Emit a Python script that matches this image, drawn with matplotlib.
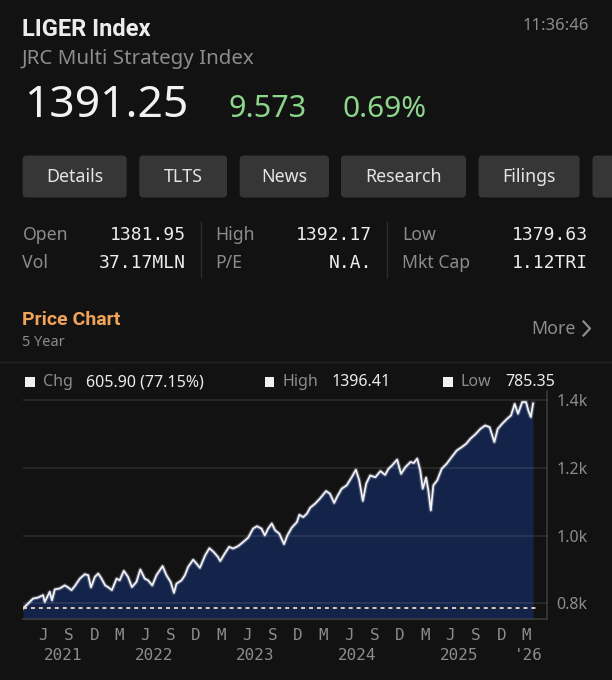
import matplotlib
matplotlib.use('Agg')
import matplotlib.pyplot as plt
import matplotlib.dates as mdates
from matplotlib.patches import FancyBboxPatch, Rectangle
from matplotlib.ticker import FuncFormatter
import pandas as pd

plt.rcParams['font.family'] = ['Noto Sans', 'DejaVu Sans']

BG = '#121212'
GREY = '#8c8c8c'
WHITE = '#ececec'
GREEN = '#8bd68b'
ORANGE = '#f0a35a'
FILL = '#13234a'
MONO = ['DejaVu Sans Mono']
BOLD = ['Roboto', 'DejaVu Sans']

# header data
title = 'LIGER Index'
subtitle = 'JRC Multi Strategy Index'
clock = '11:36:46'
last_price = '1391.25'
net_change = '9.573'
pct_change = '0.69%'
buttons = ['Details', 'TLTS', 'News', 'Research', 'Filings', '']
stat_labels = [['Open', 'High', 'Low'], ['Vol', 'P/E', 'Mkt Cap']]
stat_values = [['1381.95', '1392.17', '1379.63'], ['37.17MLN', 'N.A.', '1.12TRI']]
chg_text = '605.90 (77.15%)'
period_high = 1396.41
period_low = 785.35

# price series
dates = ['2021-03-20', '2021-04-07', '2021-04-25', '2021-05-13', '2021-05-31', '2021-06-06',
         '2021-06-24', '2021-07-02', '2021-07-12', '2021-07-30', '2021-08-17', '2021-08-29',
         '2021-09-10', '2021-09-22', '2021-10-10', '2021-10-28', '2021-11-09', '2021-11-19',
         '2021-12-03', '2021-12-15', '2021-12-27', '2022-01-09', '2022-01-21', '2022-02-02',
         '2022-02-19', '2022-03-02', '2022-03-17', '2022-04-01', '2022-04-15', '2022-05-01',
         '2022-05-15', '2022-05-31', '2022-06-12', '2022-06-27', '2022-07-12', '2022-08-03',
         '2022-08-17', '2022-09-01', '2022-09-13', '2022-09-22', '2022-10-10', '2022-10-22',
         '2022-11-03', '2022-11-21', '2022-12-03', '2022-12-15', '2023-01-03', '2023-01-18',
         '2023-02-02', '2023-02-18', '2023-02-26', '2023-03-14', '2023-03-30', '2023-04-13',
         '2023-05-01', '2023-05-19', '2023-06-06', '2023-06-24', '2023-07-08', '2023-07-24',
         '2023-08-05', '2023-08-17', '2023-08-30', '2023-09-11', '2023-09-26', '2023-10-13',
         '2023-10-25', '2023-11-10', '2023-11-28', '2023-12-07', '2023-12-21', '2024-01-03',
         '2024-01-15', '2024-02-02', '2024-02-19', '2024-03-12', '2024-03-26', '2024-04-10',
         '2024-04-21', '2024-05-07', '2024-05-25', '2024-06-12', '2024-06-27', '2024-07-09',
         '2024-07-22', '2024-08-03', '2024-08-17', '2024-09-05', '2024-09-23', '2024-10-10',
         '2024-10-22', '2024-11-04', '2024-11-22', '2024-12-06', '2024-12-22', '2025-01-09',
         '2025-01-21', '2025-02-02', '2025-02-13', '2025-02-22', '2025-03-06', '2025-03-14',
         '2025-03-23', '2025-04-01', '2025-04-15', '2025-05-01', '2025-05-19', '2025-06-06',
         '2025-06-24', '2025-07-12', '2025-07-28', '2025-08-12', '2025-08-30', '2025-09-17',
         '2025-10-04', '2025-10-20', '2025-11-06', '2025-11-18', '2025-12-04', '2025-12-22',
         '2026-01-05', '2026-01-18', '2026-01-30', '2026-02-14', '2026-02-28', '2026-03-08',
         '2026-03-17', '2026-03-25']
prices = [785, 799, 814, 817, 824, 804,
          834, 809, 841, 844, 853, 847,
          839, 851, 873, 886, 883, 847,
          878, 888, 873, 853, 847, 839,
          873, 868, 896, 878, 848, 863,
          900, 873, 868, 853, 883, 910,
          883, 863, 831, 858, 868, 883,
          908, 929, 917, 905, 942, 963,
          952, 937, 925, 947, 967, 962,
          969, 981, 994, 1021, 1028, 1021,
          1001, 1021, 1036, 1016, 1006, 975,
          1001, 1024, 1040, 1062, 1055, 1065,
          1083, 1095, 1110, 1132, 1124, 1097,
          1116, 1139, 1149, 1173, 1195, 1164,
          1103, 1154, 1178, 1173, 1191, 1180,
          1198, 1208, 1225, 1183, 1203, 1218,
          1215, 1228, 1193, 1139, 1172, 1134,
          1075, 1149, 1164, 1198, 1213, 1233,
          1252, 1262, 1272, 1287, 1300, 1316,
          1326, 1321, 1277, 1316, 1331, 1346,
          1356, 1390, 1361, 1395, 1395, 1370,
          1351, 1391]
y_ticks = [800, 1000, 1200, 1400]
y_labels = ['0.8k', '1.0k', '1.2k', '1.4k']
year_labels = ['2021', '2022', '2023', '2024', '2025', "'26"]
x_end = '2026-05-14'

W, H = 612, 680
fig = plt.figure(figsize=(W / 100, H / 100), dpi=100, facecolor=BG)

# overlay in pixel coords for the header / stats panel
ov = fig.add_axes([0, 0, 1, 1])
ov.set_xlim(0, W)
ov.set_ylim(H, 0)
ov.axis('off')

ov.text(22.5, 36, title, color=WHITE, fontsize=17, fontweight='bold', family=BOLD, va='baseline')
ov.text(589, 30.5, clock, color=GREY, fontsize=12, ha='right', va='baseline')
ov.text(22, 64, subtitle, color=GREY, fontsize=14.8, va='baseline')
ov.text(24, 117, last_price, color='#f2f2f2', fontsize=32, va='baseline')
ov.text(229, 117, net_change, color=GREEN, fontsize=22, va='baseline')
ov.text(342, 117, pct_change, color=GREEN, fontsize=21.5, va='baseline')

btn_x = [(22.7, 126.7), (139.3, 227), (239.7, 329), (341, 466), (478.5, 579.6), (592.5, 640)]
for name, (x0, x1) in zip(buttons, btn_x):
    ov.add_patch(FancyBboxPatch((x0, 155.5), x1 - x0, 42, boxstyle='round,pad=0,rounding_size=4',
                                fc='#363636', ec='none'))
    ov.text((x0 + x1) / 2, 177, name, color='#e4e4e4', fontsize=12.8, ha='center', va='center')

col_lab = [22.5, 215.5, 402]
col_val = [185.5, 372, 587.5]
row_y = [240, 268]
for r in range(2):
    for c in range(3):
        ov.text(col_lab[c], row_y[r], stat_labels[r][c], color=GREY, fontsize=12.7, va='baseline')
        ov.text(col_val[c], row_y[r], stat_values[r][c], color=WHITE, fontsize=13,
                family=MONO, ha='right', va='baseline')
for sx in [201, 386.5]:
    ov.plot([sx, sx], [222, 277], color='#2c2c2c', lw=1)

ov.text(22, 325, 'Price Chart', color=ORANGE, fontsize=14, fontweight='semibold', family=BOLD,
        va='baseline')
ov.text(22, 346.5, '5 Year', color=GREY, fontsize=10.5, va='baseline')
ov.text(531, 334, 'More', color=GREY, fontsize=12.8, va='baseline')
ov.plot([583.5, 590, 583.5], [321.5, 328.5, 335.5], color=GREY, lw=1.6)
ov.plot([0, W], [362, 362], color='#222222', lw=1)

legend_items = [(25.4, 'Chg', chg_text, 86), (264.6, 'High', f'{period_high:.2f}', 332),
                (443, 'Low', f'{period_low:.2f}', 505)]
for sq, lab, val, vx in legend_items:
    ov.add_patch(Rectangle((sq, 376.5), 9.5, 10, fc='#f0f0f0', ec='none'))
    ov.text(sq + 17.5, 386.5, lab, color=GREY, fontsize=11.5, va='baseline')
    ov.text(vx, 386.5, val, color=WHITE, fontsize=11.5, va='baseline')

# price chart
d = pd.to_datetime(dates)
ax = fig.add_axes([23 / W, (H - 619.3) / H, (547 - 23) / W, (619.3 - 391) / H])
ax.set_facecolor(BG)
ax.fill_between(d, prices, 0, color=FILL, lw=0, zorder=1)
ax.plot(d, prices, color='#9aa0b4', lw=3.0, alpha=0.4, zorder=3)
ax.plot(d, prices, color='#f2f2f6', lw=1.3, zorder=3.1)
ax.axhline(period_low, xmax=0.985, color='#f3d2b8', lw=1.3, ls=(0, (2.2, 2.2)), zorder=4)

x0 = d[0]
x1 = pd.Timestamp(x_end)
ax.set_xlim(x0, x1)
ax.set_ylim(752.7, 1428)

ax.set_yticks(y_ticks)
ax.set_yticklabels(y_labels)
ax.yaxis.tick_right()
ax.grid(axis='y', color='white', alpha=0.1, lw=1.2, zorder=2)
ax.set_axisbelow(False)
ax.tick_params(axis='y', length=0, pad=7, labelcolor=GREY, labelsize=11.5)
ax.xaxis.set_major_locator(mdates.MonthLocator(bymonth=[3, 6, 9, 12]))
ax.xaxis.set_major_formatter(FuncFormatter(lambda v, p: mdates.num2date(v).strftime('%b')[0]))
ax.tick_params(axis='x', length=0, pad=6, labelcolor=GREY, labelsize=11.5)
for lbl in ax.get_xticklabels():
    lbl.set_family(MONO)
for s in ['top', 'left']:
    ax.spines[s].set_visible(False)
for s in ['right', 'bottom']:
    ax.spines[s].set_color('#3a3a3a')
    ax.spines[s].set_linewidth(1.2)

# year labels centred on the visible part of each year
for i, lab in enumerate(year_labels):
    yr = 2021 + i
    lo = max(pd.Timestamp(f'{yr}-01-01'), x0)
    hi = min(pd.Timestamp(f'{yr + 1}-01-01'), x1)
    ax.text(lo + (hi - lo) / 2, -0.157, lab, transform=ax.get_xaxis_transform(),
            ha='center', va='center', color=GREY, fontsize=11.5, family=MONO)

fig.savefig('out.png', dpi=100, facecolor=BG)
